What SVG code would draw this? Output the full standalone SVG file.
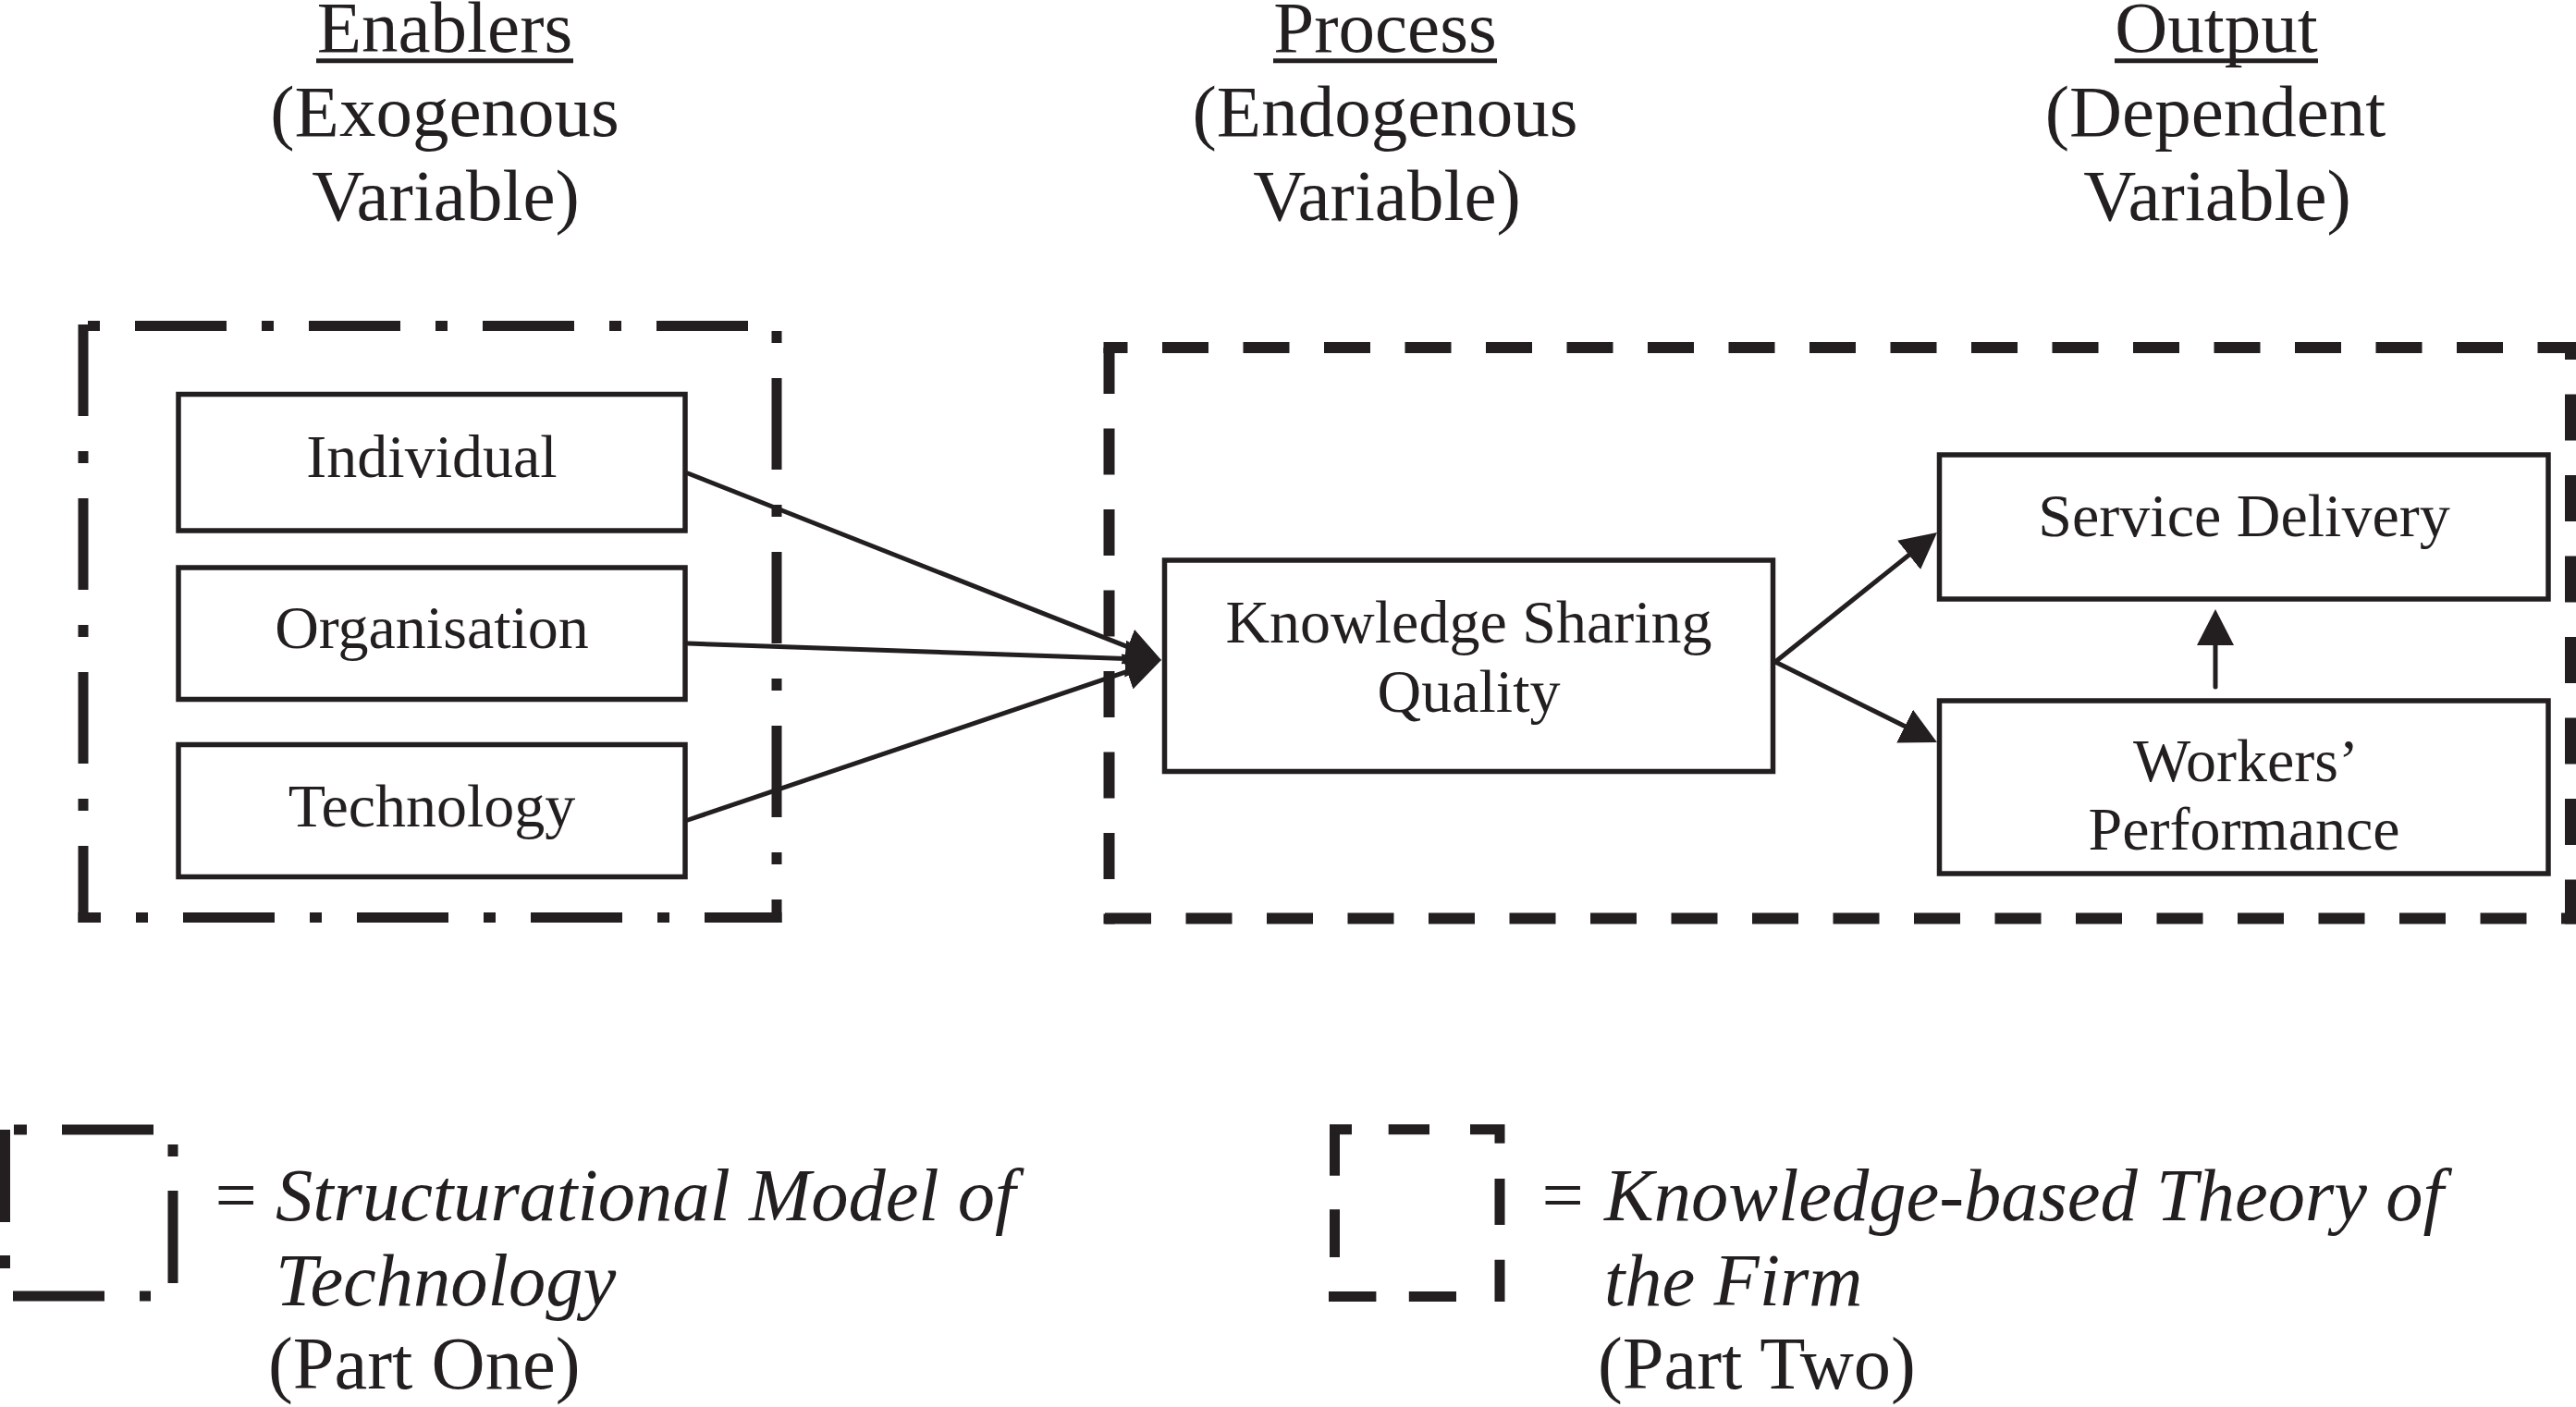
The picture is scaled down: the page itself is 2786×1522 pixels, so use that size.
<svg xmlns="http://www.w3.org/2000/svg" width="2786" height="1522" viewBox="0 0 2786 1522">
<style>
text{font-family:"Liberation Serif","Times New Roman",serif;fill:#231f20}
.h{font-size:79px;text-anchor:middle}
.b{font-size:66px;text-anchor:middle}
.lg{font-size:80.5px}
.it{font-style:italic}
.box{fill:#fff;stroke:#231f20;stroke-width:5.5}
.ul{stroke:#231f20;stroke-width:5}
.dd{fill:none;stroke:#231f20;stroke-width:11;stroke-dasharray:99 38 13 38;stroke-linecap:butt}
.dd2{fill:none;stroke:#231f20;stroke-width:11;stroke-dasharray:13 38 99 38;stroke-linecap:butt}
.da{fill:none;stroke:#231f20;stroke-width:12;stroke-dasharray:50 37.5;stroke-linecap:butt}
.seg{fill:none;stroke:#231f20;stroke-width:11;stroke-linecap:butt;stroke-linejoin:miter}
.conn line{stroke:#231f20;stroke-width:5;stroke-linecap:round}
</style>
<defs>
<marker id="ah" markerUnits="userSpaceOnUse" markerWidth="39" markerHeight="40" viewBox="0 0 39 40" refX="29" refY="20" orient="auto">
<path d="M0,0 L39,20 L0,40 z" fill="#231f20"/>
</marker>
</defs>

<g id="headings">
<text class="h" x="481" y="56">Enablers</text>
<line class="ul" x1="342" y1="65.8" x2="620" y2="65.8"/>
<text class="h" x="481" y="147">(Exogenous</text>
<text class="h" x="482" y="238">Variable)</text>
<text class="h" x="1498" y="56">Process</text>
<line class="ul" x1="1377" y1="65.8" x2="1619" y2="65.8"/>
<text class="h" x="1498" y="147">(Endogenous</text>
<text class="h" x="1500" y="238">Variable)</text>
<text class="h" x="2397" y="56">Output</text>
<line class="ul" x1="2287" y1="65.8" x2="2507" y2="65.8"/>
<text class="h" x="2396" y="147">(Dependent</text>
<text class="h" x="2398" y="238">Variable)</text>
</g>

<g id="enablers-frame">
<line class="dd2" x1="95" y1="352.5" x2="845" y2="352.5"/>
<line class="dd2" x1="840" y1="347" x2="840" y2="998" style="stroke-dashoffset:177"/>
<line class="dd" x1="845.5" y1="992.5" x2="84.5" y2="992.5" style="stroke-dashoffset:15.5"/>
<line class="dd" x1="90" y1="998" x2="90" y2="347" style="stroke-dashoffset:16"/>
</g>

<g id="process-frame">
<line class="da" x1="1193.5" y1="376" x2="2786" y2="376" style="stroke-dashoffset:24"/>
<line class="da" x1="2780" y1="370" x2="2780" y2="999.5" style="stroke-dashoffset:31"/>
<line class="da" x1="2786" y1="993.5" x2="1193.5" y2="993.5" style="stroke-dashoffset:34"/>
<line class="da" x1="1199.5" y1="370" x2="1199.5" y2="999.5" style="stroke-dashoffset:81.5"/>
</g>

<g id="individual">
<rect class="box" x="193" y="426.5" width="548" height="147.5"/>
<text class="b" x="467" y="516">Individual</text>
</g>
<g id="organisation">
<rect class="box" x="193" y="614" width="548" height="142.5"/>
<text class="b" x="467" y="701">Organisation</text>
</g>
<g id="technology">
<rect class="box" x="193" y="805.5" width="548" height="143"/>
<text class="b" x="467" y="894">Technology</text>
</g>
<g id="knowledge-sharing-quality">
<rect class="box" x="1259.5" y="606" width="658" height="228.5"/>
<text class="b" x="1588.5" y="695">Knowledge Sharing</text>
<text class="b" x="1588.5" y="770">Quality</text>
</g>
<g id="service-delivery">
<rect class="box" x="2097.5" y="492" width="658.5" height="156"/>
<text class="b" x="2427" y="580">Service Delivery</text>
</g>
<g id="workers-performance">
<rect class="box" x="2097.5" y="758" width="658.5" height="187"/>
<text class="b" x="2429" y="845">Workers’</text>
<text class="b" x="2427" y="919">Performance</text>
</g>

<g id="connectors" class="conn">
<line x1="744" y1="512" x2="1246.7" y2="710.3" marker-end="url(#ah)"/>
<line x1="744" y1="696" x2="1246" y2="713.6" marker-end="url(#ah)"/>
<line x1="744" y1="887" x2="1246.5" y2="717.2" marker-end="url(#ah)"/>
<line x1="1920" y1="716" x2="2087.2" y2="582.2" marker-end="url(#ah)"/>
<line x1="1920" y1="716" x2="2086" y2="798.5" marker-end="url(#ah)"/>
<line x1="2396" y1="743" x2="2396" y2="669" marker-end="url(#ah)"/>
</g>

<g id="legend-part-one">
<path class="seg" d="M5.5,1222 V1322 M5.5,1358 V1372 M15,1222 H29 M67,1222 H166 M187,1238 V1251 M187,1288 V1388 M14,1402 H113 M151,1402 H163"/>
<text class="lg" x="232.5" y="1320">=</text>
<text class="lg it" x="298" y="1320">Structurational Model of</text>
<text class="lg it" x="298" y="1412">Technology</text>
<text class="lg" x="290" y="1502">(Part One)</text>
</g>

<g id="legend-part-two">
<path class="seg" d="M1443.5,1271.7 V1221.7 H1462 M1501.7,1221.7 H1546 M1590,1221.7 H1622 V1236.7 M1622,1275 V1325 M1622,1362.7 V1408 M1437,1402.5 H1488.4 M1523.8,1402.5 H1575 M1443.5,1308.3 V1360"/>
<text class="lg" x="1667.5" y="1320">=</text>
<text class="lg it" x="1735" y="1320">Knowledge-based Theory of</text>
<text class="lg it" x="1735" y="1412">the Firm</text>
<text class="lg" x="1728" y="1502">(Part Two)</text>
</g>
</svg>
